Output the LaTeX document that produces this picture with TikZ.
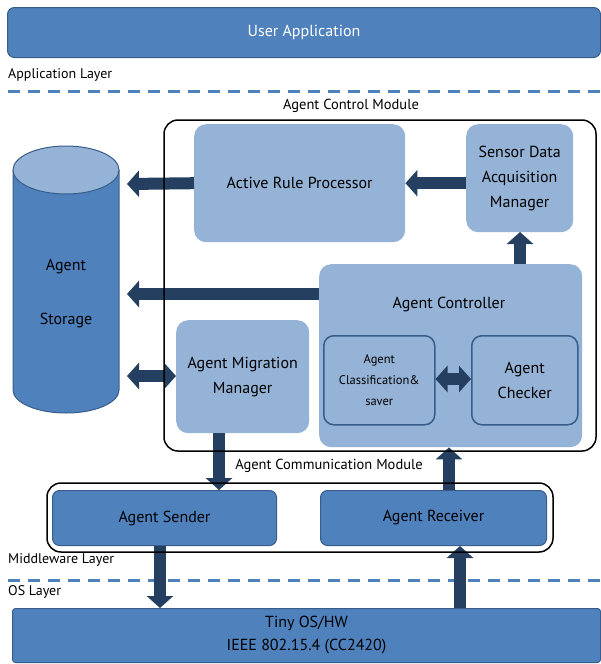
\documentclass[tikz,border=0pt]{standalone}
\usepackage{fontspec}
\setmainfont{PT Sans}
\usetikzlibrary{arrows.meta}
\definecolor{dkblue}{RGB}{79,129,189}
\definecolor{dkborder}{RGB}{56,93,138}
\definecolor{ltblue}{RGB}{149,179,215}
\definecolor{navy}{RGB}{36,63,96}
\tikzset{
  darkbox/.style={rounded corners=7pt, fill=dkblue, draw=dkborder, line width=1pt, anchor=north west, inner sep=0pt, align=center},
  lightbox/.style={rounded corners=12pt, fill=ltblue, draw=none, anchor=north west, inner sep=0pt, align=center},
  innerbox/.style={rounded corners=10pt, fill=ltblue, draw=dkborder, line width=1.5pt, anchor=north west, inner sep=0pt, align=center},
  modbox/.style={rounded corners=14pt, draw=black, line width=1.5pt},
  fat/.style={draw=navy, line width=12pt, -{Triangle[length=12pt,width=26pt]}},
  dfat/.style={draw=navy, line width=12pt, {Triangle[length=12pt,width=26pt]}-{Triangle[length=12pt,width=26pt]}},
  layer/.style={draw=dkblue, line width=3pt, dash pattern=on 12pt off 8pt},
  lbl/.style={anchor=west, font=\fontsize{14}{16}\selectfont, inner sep=0pt},
  modlbl/.style={font=\fontsize{14.5}{17}\selectfont, inner sep=0pt},
  big/.style={font=\fontsize{16}{25}\selectfont},
  bigos/.style={font=\fontsize{16}{23}\selectfont},
  small/.style={font=\fontsize{12.5}{21}\selectfont}
}
\begin{document}
\begin{tikzpicture}[x=1pt,y=-1pt]
\useasboundingbox (0,0) rectangle (600,664);
\fill[white] (0,0) rectangle (600,664);

% User application
\node[darkbox, minimum width=593pt, minimum height=50pt, text=white, big] (ua) at (7,7) {User Application};
\node[lbl] (al) at (8,75) {Application Layer};
\coordinate (d1a) at (8,91); \coordinate (d1b) at (600,91);
\draw[layer] (d1a) -- (d1b);

% Agent control module label
\node[modlbl] (acmt) at (351,106) {Agent Control Module};

% storage cylinder
\fill[dkblue] (13,170) rectangle (119,390);
\fill[dkblue] (66,390) ellipse[x radius=53, y radius=23];
\draw[dkborder, line width=1pt] (13,170) -- (13,390) arc[start angle=180, end angle=0, x radius=53, y radius=23] -- (119,170);
\draw[dkborder, line width=1pt, fill=ltblue] (66,170) ellipse[x radius=53, y radius=24];
\node[big, inner sep=0pt] (st1) at (66,267) {Agent};
\node[big, inner sep=0pt] (st2) at (66,320) {Storage};

% boxes
\node[lightbox, minimum width=211pt, minimum height=118pt, big] (arp) at (194,124) {Active Rule Processor};
\node[lightbox, minimum width=107pt, minimum height=108pt, big] (sdam) at (466,124) {Sensor Data\\Acquisition\\Manager};
\node[lightbox, minimum width=263pt, minimum height=183pt] (ac) at (319,264) {};
\node[big, inner sep=0pt] (actext) at (449,304) {Agent Controller};
\node[lightbox, minimum width=133pt, minimum height=113pt, big] (amm) at (176,320) {Agent Migration\\Manager};
\node[innerbox, minimum width=111pt, minimum height=89pt, small] (acs) at (323,335) {Agent\\Classification\&\\saver};
\node[innerbox, minimum width=106pt, minimum height=89pt, big] (chk) at (471,335) {Agent\\Checker};

% communication module
\node[modlbl] (acomt) at (329,466) {Agent Communication Module};
\node[darkbox, minimum width=224pt, minimum height=55pt, big] (snd) at (52,490) {Agent Sender};
\node[darkbox, minimum width=226pt, minimum height=55pt, big] (rcv) at (320,490) {Agent Receiver};

\node[lbl] (ml) at (8,560) {Middleware Layer};
\coordinate (d2a) at (8,580); \coordinate (d2b) at (600,580);
\draw[layer] (d2a) -- (d2b);
\node[lbl] (ol) at (8,592) {OS Layer};

\node[darkbox, rounded corners=3pt, minimum width=588pt, minimum height=54pt, bigos] (os) at (12,608) {Tiny OS/HW\\IEEE 802.15.4 (CC2420)};

% arrows
\coordinate (t1) at (127,184);
\draw[fat] (arp.west) -- (t1);
\draw[fat] (sdam.west |- arp.west) -- (arp.east);
\coordinate (sdb) at (520,232);
\draw[fat] (ac.north -| sdb) -- (sdb);
\coordinate (t2) at (127,294);
\draw[fat] (ac.west |- t2) -- (t2);
\coordinate (t3) at (127,376);
\draw[dfat] (t3) -- (amm.west |- t3);
\coordinate (t4) at (0,379);
\draw[dfat] (acs.east |- t4) -- (chk.west |- t4);
\coordinate (t5) at (219,0);
\draw[fat] (amm.south -| t5) -- (snd.north -| t5);
\coordinate (t6) at (449,0);
\draw[fat] (rcv.north -| t6) -- (ac.south -| t6);
\coordinate (t7) at (160,0);
\draw[fat] (snd.south -| t7) -- (os.north -| t7);
\coordinate (t8) at (460,0);
\draw[fat] (os.north -| t8) -- (rcv.south -| t8);

% module borders
\draw[modbox] (164,120) rectangle (596,451);
\draw[modbox] (47,483) rectangle (553,552);
\end{tikzpicture}
\end{document}
